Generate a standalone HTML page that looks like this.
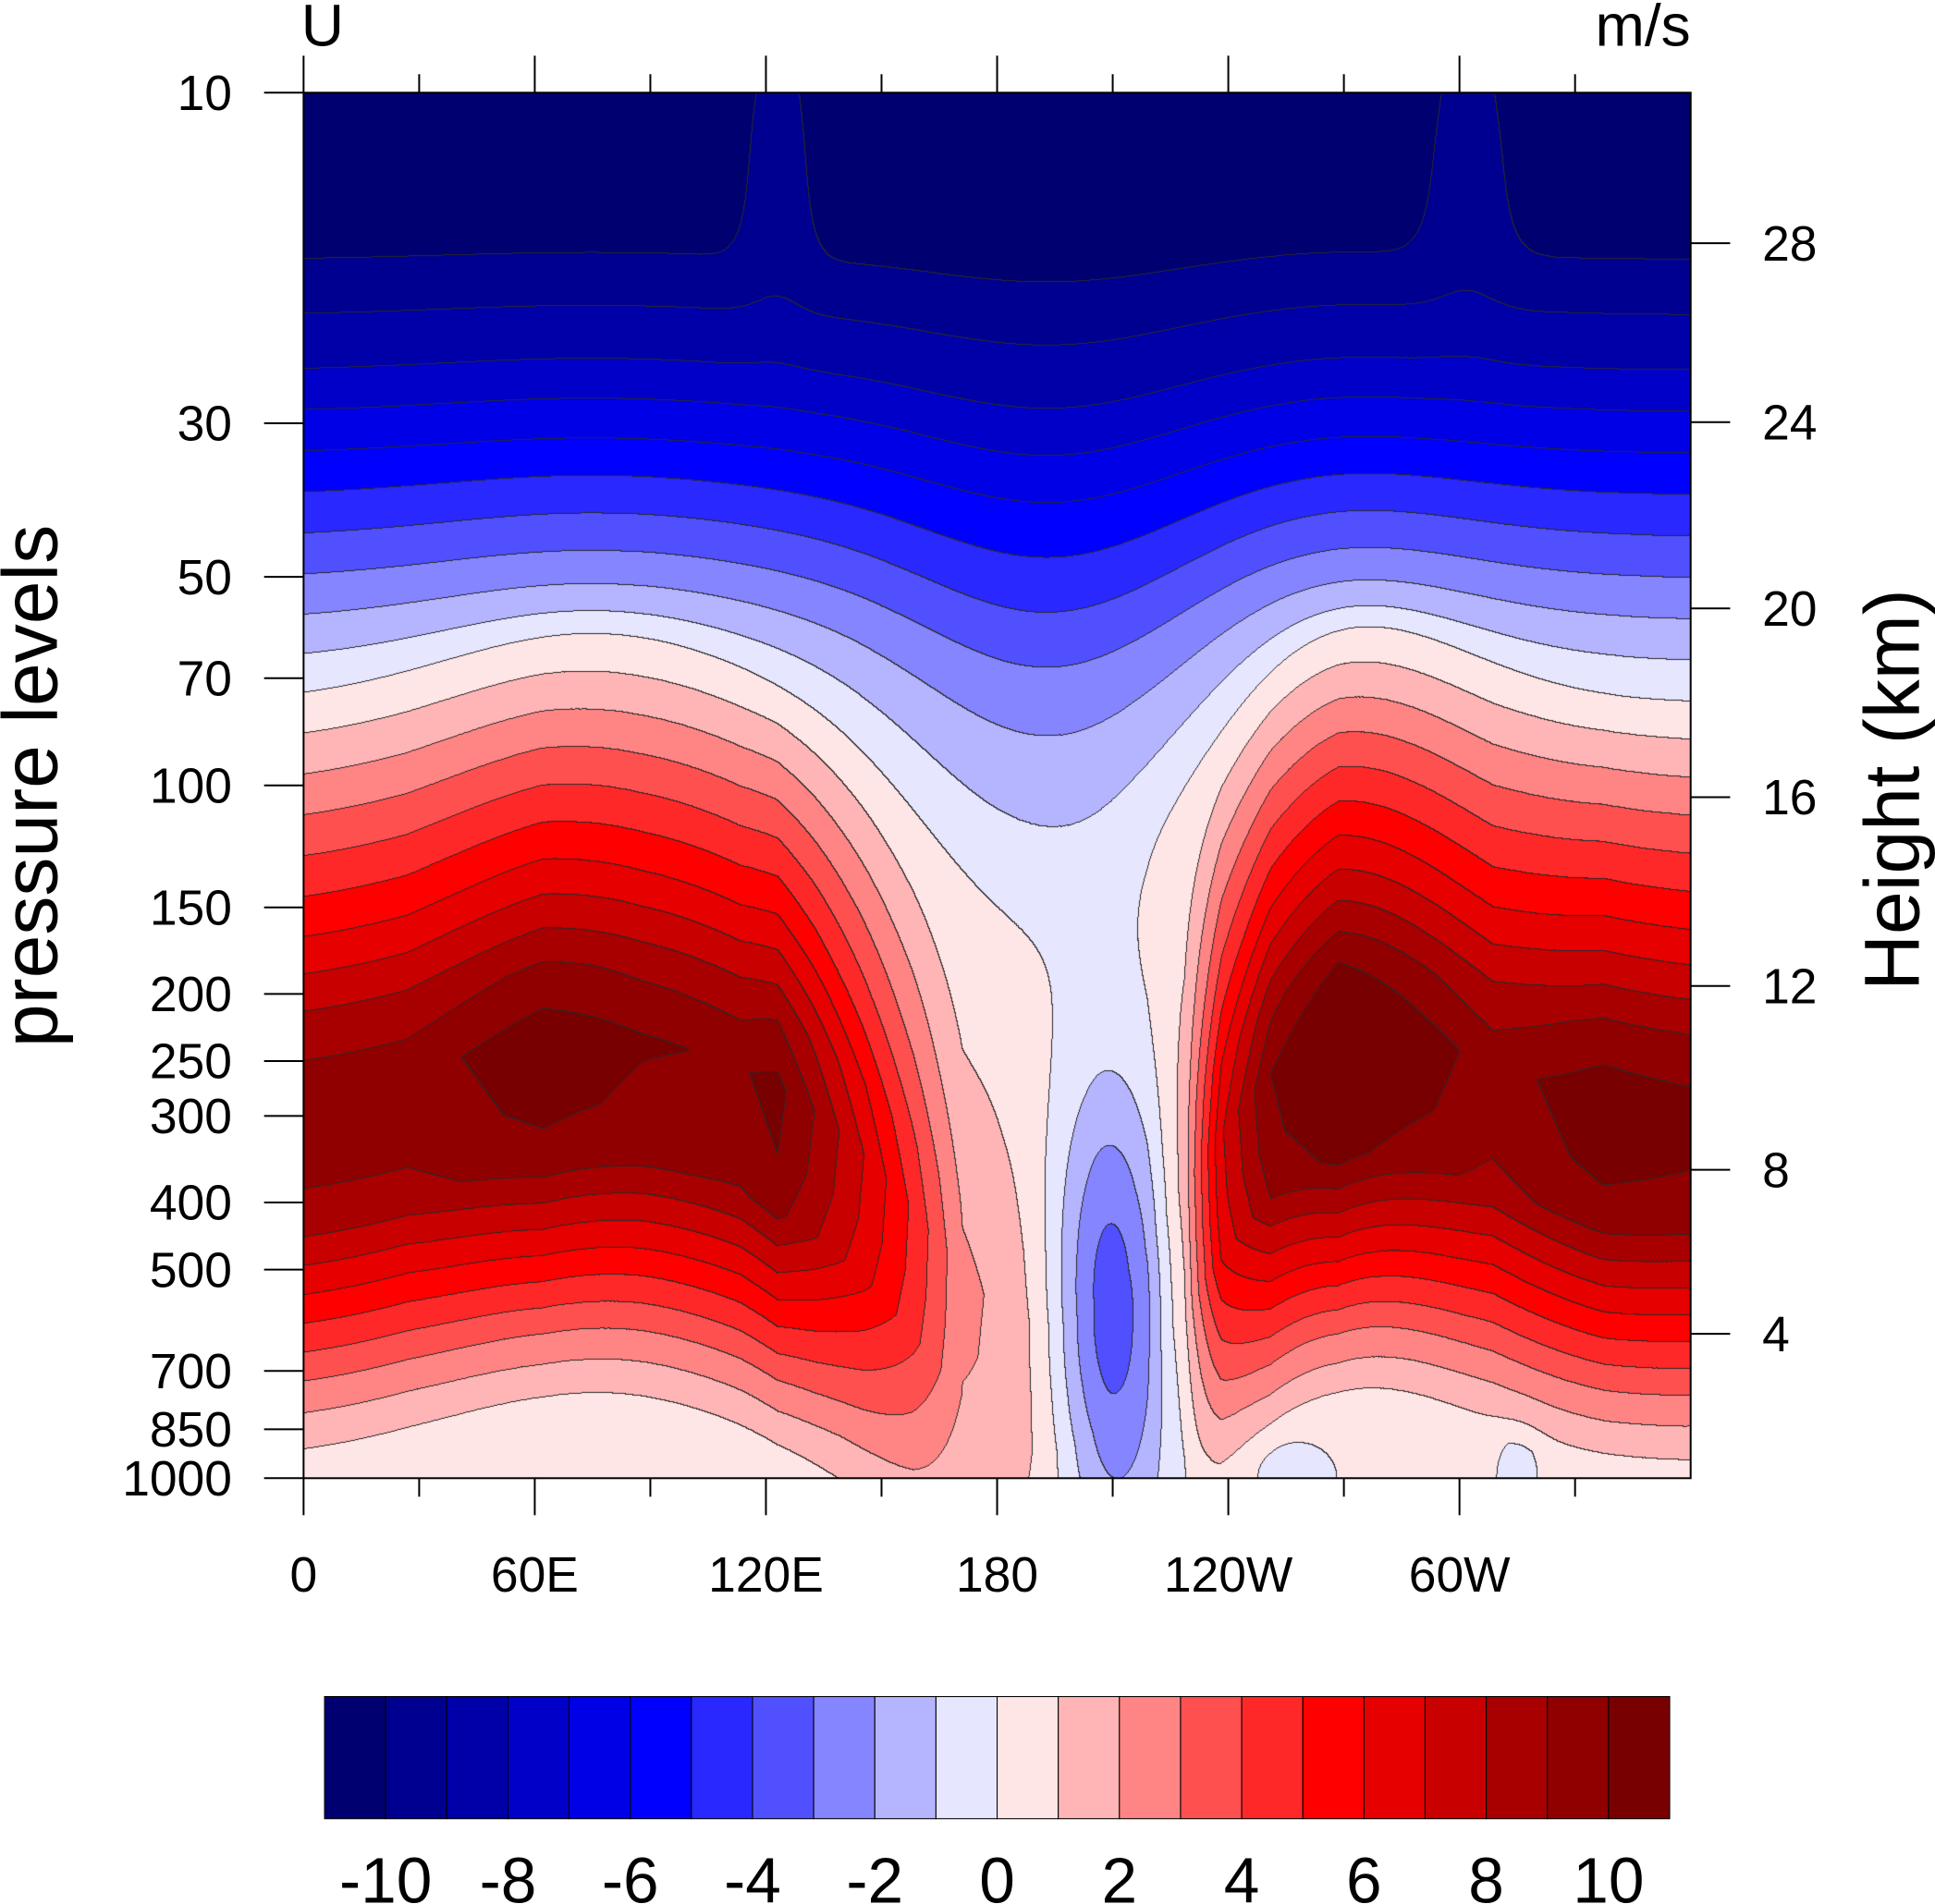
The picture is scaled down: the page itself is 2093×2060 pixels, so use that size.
<!DOCTYPE html>
<html><head><meta charset="utf-8"><style>
html,body{margin:0;padding:0;background:#fff}
#w{position:relative;width:2093px;height:2060px;overflow:hidden}
#c{position:absolute;left:328px;top:100px}
svg{position:absolute;left:0;top:0}
text{font-family:"Liberation Sans",sans-serif;fill:#000}
</style></head><body><div id="w">
<canvas id="c" width="1500" height="1499"></canvas>
<svg id="s" width="2093" height="2060" viewBox="0 0 1568 1543"></svg>
</div>
<script>
const cols=["#000070","#000090","#0000a8","#0000c8","#0000e6","#0000ff","#2828ff","#5050ff","#8585ff","#b5b5ff","#e6e6ff","#ffe6e6","#ffb5b5","#ff8585","#ff5050","#ff2828","#ff0000","#e60000","#c80000","#a80000","#900000","#780000"];
function interp(k,x){if(x<=k[0][0])return k[0][1];for(let i=1;i<k.length;i++){if(x<=k[i][0]){const a=k[i-1],b=k[i];return a[1]+(b[1]-a[1])*(x-a[0])/(b[0]-a[0]);}}return k[k.length-1][1];}
const Sk=[[0,-11],[0.12,-10],[0.2,-8],[0.29,-5],[0.41,-1],[0.44,0]];
const Jk=[[0.44,0],[0.61,0.6],[0.68,0.87],[0.73,1],[0.78,0.97],[0.82,0.9],[0.89,0.55],[0.95,0.25],[1,0.05]];
const Fk=[[0,0],[0.12,0.1],[0.2,0.17],[0.26,0.22],[0.29,0.28],[0.32,0.34],[0.35,0.4],[0.38,0.52],[0.41,0.73],[0.44,1]];
const Pk=[[246,9.6],[330,9.6],[440,10.6],[520,10.1],[600,9.9],[630,10.3],[660,9.0],[700,7],[740,4.8],[780,2.2],[812,2.0],[850,2.0],[880,2.0],[930,1.6],[960,2.4],[990,7],[1030,10],[1085,11.5],[1150,10.5],[1210,9.6],[1300,10.6],[1370,10.3]];
const g=(x,c,s)=>Math.exp(-((x-c)*(x-c))/(2*s*s));
function V(xd,t,tp){
 let v;
 if(tp<0.44) v=interp(Sk,tp); else v=interp(Pk,xd)*interp(Jk,tp);
 v+=-5.3*g(xd,900,36)*g(t,0.88,0.12);
 v+=1.6*(g(xd,630,18)+g(xd,1190,22))*g(t,0,0.08);
 v+=-0.9*(g(xd,1055,30)+g(xd,1230,15))*g(t,1.0,0.025);
 return v;
}
const cv=document.getElementById('c'),ctx=cv.getContext('2d');
const W=cv.width,H=cv.height,img=ctx.createImageData(W,H);
const rgb=cols.map(c=>[parseInt(c.substr(1,2),16),parseInt(c.substr(3,2),16),parseInt(c.substr(5,2),16)]);
const idx=new Int8Array(W*H);
for(let i=0;i<W;i++){
 const xd=246+1124*i/(W-1);
 const D=0.165*g(xd,852,95)-0.06*g(xd,1090,100)-0.05*g(xd,480,120);
 let tp=-0.3,step=0.0002;
 let tcur=tp+D*interp(Fk,Math.max(0,tp));
 for(let j=0;j<H;j++){
  const t=j/(H-1);
  while(tcur<t&&tp<1.5){tp+=step;tcur=tp+D*interp(Fk,Math.max(0,tp));}
  let k=Math.floor(V(xd,t,Math.max(0,tp)))+11;if(k<0)k=0;if(k>21)k=21;idx[j*W+i]=k;
 }
}
for(let j=0;j<H;j++)for(let i=0;i<W;i++){const p=j*W+i,k=idx[p];let c=rgb[k];
 if((i>0&&idx[p-1]!==k)||(j>0&&idx[p-W]!==k))c=[40,40,40];
 const o=p*4;img.data[o]=c[0];img.data[o+1]=c[1];img.data[o+2]=c[2];img.data[o+3]=255;}
ctx.putImageData(img,0,0);
let s='';
const yp=p=>75+(Math.log10(p)-1)/2*1123;
s+='<rect x="246" y="75" width="1124" height="1123" fill="none" stroke="#000" stroke-width="1.5"/>';
[10,30,50,70,100,150,200,250,300,400,500,700,850,1000].forEach(p=>{const y=yp(p);s+=`<line x1="214" x2="246" y1="${y}" y2="${y}" stroke="#000" stroke-width="1.5"/><text x="188" y="${y+14}" font-size="40" text-anchor="end">${p}</text>`;});
[[28,197],[24,342],[20,493],[16,646],[12,799],[8,948],[4,1081]].forEach(a=>{s+=`<line x1="1370" x2="1402" y1="${a[1]}" y2="${a[1]}" stroke="#000" stroke-width="1.5"/><text x="1428" y="${a[1]+14}" font-size="40">${a[0]}</text>`;});
const xl=['0','60E','120E','180','120W','60W'];
for(let k=0;k<12;k++){const x=246+k*1124/12;const maj=k%2==0;
 s+=`<line x1="${x}" x2="${x}" y1="1198" y2="${maj?1228:1213}" stroke="#000" stroke-width="1.5"/><line x1="${x}" x2="${x}" y1="75" y2="${maj?45:60}" stroke="#000" stroke-width="1.5"/>`;
 if(maj)s+=`<text x="${x}" y="1290" font-size="40" text-anchor="middle">${xl[k/2]}</text>`;}
s+='<text x="244" y="37" font-size="48">U</text><text x="1370" y="37" font-size="48" text-anchor="end">m/s</text>';
s+='<text transform="translate(46,637) rotate(-90)" font-size="63" text-anchor="middle">pressure levels</text>';
s+='<text transform="translate(1555,640) rotate(-90)" font-size="63" text-anchor="middle">Height (km)</text>';
const bw=(1353-263)/22;
cols.forEach((c,i)=>{s+=`<rect x="${263+i*bw}" y="1375" width="${bw}" height="99" fill="${c}" stroke="#000" stroke-width="0.8"/>`;});
for(let v=-10;v<=10;v+=2){const x=263+(v+11)*bw;s+=`<text x="${x}" y="1542" font-size="52" text-anchor="middle">${v}</text>`;}
document.getElementById('s').innerHTML=s;
</script></body></html>
